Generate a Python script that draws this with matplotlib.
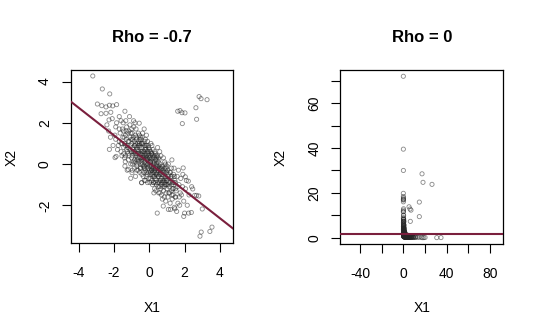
import matplotlib
matplotlib.use('Agg')
import matplotlib.pyplot as plt

plt.rcParams['font.family'] = ['Liberation Sans', 'DejaVu Sans']

# ---------------- data (read / estimated from the picture) ----------------
left_title = "Rho = -0.7"
right_title = "Rho = 0"
x_label = "X1"
y_label = "X2"

# left panel: dense central cloud
left_core = [
    (-2.4, 1.9), (-2.2, 1.3), (-2.1, 2.2), (-2.3, 1.6), (-2.05, 0.9),
    (-1.9, 1.8), (-1.8, 0.7), (-1.95, 1.4), (-1.6, 2.1), (-1.7, 1.1), (-1.55, 0.4), (-1.85, 2.0),
    (-1.65, 1.5), (-1.75, 0.9), (-1.52, 1.7), (-1.9, 1.2), (-1.6, 0.6), (-1.7, 2.3),
    (-1.45, 1.6), (-1.4, 0.3), (-1.3, 1.2), (-1.25, 0.9), (-1.1, 1.9), (-1.2, 0.5), (-1.35, 1.4),
    (-1.05, 0.0), (-1.15, 1.1), (-1.48, 2.0), (-1.3, 0.7), (-1.22, 1.5), (-1.4, 1.0), (-1.02, 0.6),
    (-1.12, 2.3), (-1.38, -0.1), (-1.28, 1.8), (-1.18, 0.2), (-1.08, 1.3), (-1.45, 0.8), (-1.33, 2.1),
    (-1.05, 0.9), (-1.25, -0.3), (-1.15, 1.6), (-1.42, 1.3), (-1.02, 1.2), (-1.2, 0.8), (-1.35, 0.4),
    (-0.95, 0.4), (-0.9, 1.3), (-0.85, -0.2), (-0.8, 0.9), (-0.75, 1.7), (-0.7, 0.2), (-0.65, 0.7),
    (-0.6, 1.1), (-0.55, -0.4), (-0.52, 0.5), (-0.98, 1.0), (-0.92, 0.1), (-0.88, 1.8), (-0.82, 0.6),
    (-0.78, -0.6), (-0.72, 1.2), (-0.68, 0.0), (-0.62, 1.5), (-0.58, 0.3), (-0.53, 0.9), (-0.96, -0.3),
    (-0.91, 0.7), (-0.86, 1.1), (-0.81, 2.0), (-0.76, 0.4), (-0.71, -0.1), (-0.66, 1.0), (-0.61, 0.6),
    (-0.56, 1.4), (-0.51, -0.2), (-0.97, 1.5), (-0.87, 0.5), (-0.77, 1.0), (-0.67, 0.3), (-0.57, 0.8),
    (-0.93, 0.8), (-0.83, 0.2), (-0.73, 0.7), (-0.63, -0.3), (-0.54, 1.2), (-0.99, 0.6), (-0.89, 2.1),
    (-0.79, 1.4), (-0.69, 0.5), (-0.59, 0.1),
    (-0.48, 0.3), (-0.45, 1.0), (-0.42, -0.5), (-0.4, 0.6), (-0.38, 1.5), (-0.35, -0.1), (-0.32, 0.2),
    (-0.3, 0.9), (-0.28, -0.8), (-0.25, 0.4), (-0.22, 1.2), (-0.2, 0.0), (-0.18, 0.7), (-0.15, -0.4),
    (-0.12, 0.3), (-0.1, 1.1), (-0.08, -0.2), (-0.05, 0.5), (-0.03, -0.7), (-0.01, 0.1), (-0.49, -0.2),
    (-0.46, 0.8), (-0.43, 0.1), (-0.41, 1.3), (-0.37, 0.5), (-0.34, -0.6), (-0.31, 0.6), (-0.29, 1.7),
    (-0.26, 0.1), (-0.23, -0.3), (-0.21, 0.8), (-0.19, 0.3), (-0.16, 1.4), (-0.13, -0.1), (-0.11, 0.6),
    (-0.09, 0.2), (-0.06, 0.9), (-0.04, -0.4), (-0.02, 0.4), (-0.47, 0.5), (-0.44, -0.9), (-0.39, 0.0),
    (-0.36, 1.0), (-0.33, 0.4), (-0.27, -0.1), (-0.24, 0.7), (-0.17, -0.6), (-0.14, 0.2), (-0.07, 0.0),
    (-0.48, 1.2), (-0.3, -0.4), (-0.2, 0.5), (-0.1, -0.9), (-0.4, 0.3), (-0.26, 1.1), (-0.06, 0.6),
    (-0.15, 0.9),
    (0.02, -0.1), (0.05, 0.6), (0.08, -0.7), (0.1, 0.2), (0.12, -0.3), (0.15, 0.9), (0.18, -1.0),
    (0.2, -0.2), (0.22, 0.4), (0.25, -0.6), (0.28, 0.1), (0.3, -1.2), (0.32, -0.4), (0.35, 0.5),
    (0.38, -0.1), (0.4, -0.8), (0.42, 0.2), (0.45, -0.5), (0.47, 0.8), (0.49, -0.3), (0.03, 0.3),
    (0.06, -0.4), (0.09, 1.0), (0.11, -0.1), (0.14, -0.8), (0.16, 0.3), (0.19, -0.5), (0.21, 0.7),
    (0.24, -0.2), (0.26, -1.4), (0.29, 0.0), (0.31, 0.6), (0.34, -0.7), (0.36, -0.2), (0.39, 0.3),
    (0.41, -1.0), (0.44, -0.1), (0.46, 0.4), (0.48, -0.9), (0.01, 0.7), (0.04, -0.9), (0.07, 0.1),
    (0.13, 0.5), (0.17, -0.1), (0.23, -0.9), (0.27, 0.3), (0.33, -0.3), (0.37, -1.3), (0.43, -0.4),
    (0.5, 0.1), (0.1, -0.5), (0.2, 0.1), (0.3, -0.6), (0.4, 0.0), (0.15, -0.3), (0.35, 0.2), (0.25, -0.9),
    (0.52, -0.6), (0.55, 0.2), (0.58, -1.1), (0.6, -0.3), (0.63, -0.8), (0.66, 0.4), (0.69, -1.5),
    (0.72, -0.5), (0.75, -0.1), (0.78, -0.9), (0.81, -1.3), (0.84, -0.4), (0.87, 0.1), (0.9, -0.7),
    (0.93, -1.8), (0.96, -0.2), (0.99, -1.0), (0.53, -1.4), (0.56, -0.2), (0.59, 0.6), (0.62, -0.5),
    (0.65, -1.2), (0.68, -0.1), (0.71, -0.9), (0.74, -1.7), (0.77, -0.3), (0.8, 0.3), (0.83, -0.8),
    (0.86, -1.1), (0.89, -0.2), (0.92, -0.6), (0.95, -1.4), (0.98, -0.4), (0.54, -0.9), (0.64, -0.2),
    (0.73, -1.1), (0.82, -0.6), (0.91, 0.0), (0.97, -0.8), (0.57, -0.5), (0.67, -0.7), (0.76, -0.5),
    (0.85, -1.6), (0.94, -1.0), (0.61, 0.0),
    (1.02, -0.8), (1.05, -1.6), (1.08, 0.0), (1.12, -1.1), (1.15, -0.4), (1.18, -1.9), (1.22, -0.7),
    (1.25, -1.3), (1.28, 0.2), (1.32, -0.9), (1.35, -1.5), (1.38, -0.5), (1.42, -2.1), (1.45, -0.8),
    (1.48, -1.2), (1.04, -0.3), (1.1, -1.4), (1.16, -0.9), (1.2, -2.2), (1.26, -0.2), (1.3, -1.7),
    (1.36, -1.0), (1.4, -0.2), (1.46, -1.6), (1.07, -1.0), (1.23, -0.6), (1.33, -1.2), (1.43, -0.6),
    (1.52, -1.3), (1.58, -0.6), (1.62, -1.9), (1.68, -1.0), (1.72, -2.0), (1.78, -0.7), (1.82, -1.5),
    (1.88, -1.1), (1.95, -1.8), (1.55, -2.3), (1.65, -0.3), (1.75, -1.4), (1.9, -0.5),
    (2.05, -1.2), (2.15, -2.0), (2.25, -1.5), (2.4, -1.1), (2.1, -0.8),
]

# left panel: more points in the darkest middle part of the cloud
left_core_extra = [
    (-1.6, 1.0), (-1.5, 1.3), (-1.45, 0.5), (-1.3, 1.6), (-1.25, 0.6), (-1.2, 1.1), (-1.1, 0.7),
    (-1.05, 1.5), (-1.0, 0.3), (-0.95, 1.2), (-0.9, 0.6), (-0.85, 0.9), (-0.8, 0.1), (-0.75, 1.3),
    (-0.7, 0.8), (-0.65, 0.2), (-0.6, 0.5), (-0.55, 1.0), (-0.5, 0.0), (-0.45, 0.6), (-0.4, 1.0),
    (-0.35, 0.3), (-0.3, 0.6), (-0.25, -0.2), (-0.2, 0.9), (-0.15, 0.4), (-0.1, 0.0), (-0.05, 0.8),
    (0.0, 0.3), (0.0, -0.3), (0.05, 0.1), (0.1, -0.2), (0.15, 0.5), (0.2, -0.6), (0.25, 0.0),
    (0.3, -0.3), (0.35, -0.9), (0.4, 0.4), (0.45, -0.2), (0.5, -0.6), (0.55, -0.1), (0.6, -0.8),
    (0.65, -0.4), (0.7, -0.2), (0.75, -0.8), (0.8, -0.4), (0.85, -1.0), (0.9, -0.3), (0.95, -0.7),
    (1.0, -1.2), (1.05, -0.6), (1.1, -0.9), (1.15, -1.4), (1.2, -0.4), (1.25, -1.0), (1.3, -0.6),
    (1.35, -1.2), (1.4, -0.9), (1.5, -1.6), (1.6, -1.1), (-1.7, 1.7), (-1.55, 1.0), (-1.35, 0.9),
    (-1.15, 0.4), (-0.95, 0.0), (-0.78, 0.5), (-0.62, 0.9), (-0.42, 0.2), (-0.28, 0.3), (-0.12, -0.5),
    (0.08, 0.4), (0.22, -0.4), (0.38, -0.5), (0.52, 0.3), (0.68, -1.0), (0.88, -0.9), (1.08, -0.5),
    (1.28, -1.5), (1.48, -0.9), (1.7, -1.6), (-0.7, -0.3), (-0.3, -0.2), (0.1, 0.6), (0.5, -1.1),
    (-1.0, 1.7), (1.0, -0.1), (-0.5, 1.3), (0.6, -1.4), (-0.2, -0.8), (0.3, 0.4),
]

# left panel: scattered points away from the cloud
left_outliers = [
    (-3.2, 4.27), (-2.66, 3.64), (-2.24, 3.40), (-2.94, 2.91), (-2.69, 2.83), (-2.45, 2.77),
    (-2.26, 2.85), (-2.07, 2.82), (-1.85, 2.88), (-1.38, 2.56), (-2.45, 2.46), (-2.18, 2.51),
    (-2.73, 2.44), (-2.28, 2.14), (-0.57, 1.98), (-2.26, 0.71), (-1.88, 0.37),
    (2.82, 3.27), (2.93, 3.17), (3.27, 3.12), (2.64, 2.73), (1.61, 2.56), (1.74, 2.59),
    (1.85, 2.49), (2.02, 2.48), (2.68, 2.17), (1.87, 1.96),
    (0.45, -2.38), (2.87, -3.50), (2.94, -3.30), (3.43, -3.27), (3.55, -3.06), (3.0, -2.18),
    (2.23, -2.38), (2.38, -2.35), (1.95, -2.54), (2.0, -2.38), (2.46, -1.21), (2.68, -1.52),
    (2.8, -1.55), (2.57, -1.52), (2.21, -0.83), (1.92, -0.19), (2.04, -0.62), (0.79, -2.04),
    (1.08, -2.2), (1.45, -2.17),
    (-1.94, 0.31), (-1.36, 0.11), (-0.98, -0.42), (-1.05, -0.69), (-0.43, -0.91), (-1.19, -0.26),
]

# right panel: dense corner near the origin
right_core = [
    (0.09, 6.7), (0.11, 3.7), (0.12, 9.0), (0.10, 5.0), (0.13, 2.5),
    (0.15, 6.0), (0.17, 2.0), (0.14, 4.1), (0.20, 8.2), (0.18, 3.0), (0.21, 1.5), (0.16, 7.4),
    (0.19, 4.5), (0.17, 2.5), (0.22, 5.5), (0.15, 3.3), (0.20, 1.8), (0.18, 10.0),
    (0.23, 5.0), (0.25, 1.35), (0.27, 3.3), (0.29, 2.5), (0.33, 6.7), (0.30, 1.65), (0.26, 4.1),
    (0.35, 1.0), (0.32, 3.0), (0.23, 7.4), (0.27, 2.0), (0.30, 4.5), (0.25, 2.7), (0.36, 1.8),
    (0.33, 10.0), (0.25, 0.9), (0.28, 6.0), (0.31, 1.2), (0.34, 3.7), (0.23, 2.2), (0.26, 8.2),
    (0.39, 1.5), (0.41, 3.7), (0.43, 0.82), (0.45, 2.5), (0.47, 5.5), (0.50, 1.2), (0.52, 2.0),
    (0.55, 3.0), (0.58, 0.67), (0.59, 1.65), (0.38, 2.7), (0.41, 6.0), (0.46, 0.55), (0.49, 3.3),
    (0.54, 4.5), (0.44, 7.4), (0.41, 8.2), (0.45, 4.1),
    (0.62, 1.35), (0.64, 2.7), (0.66, 0.6), (0.68, 4.5), (0.74, 2.5), (0.76, 0.45), (0.80, 3.3),
    (0.86, 0.67), (0.90, 3.0), (0.97, 0.5), (0.75, 5.5), (0.85, 4.1), (0.66, 3.7), (0.64, 0.41),
    (0.70, 2.7), (0.82, 1.65), (0.94, 2.5), (0.99, 1.1),
    (1.05, 1.8), (1.08, 0.5), (1.16, 2.5), (1.20, 0.37), (1.25, 1.5), (1.35, 0.3), (1.42, 1.65),
    (1.49, 0.45), (1.60, 2.2), (1.09, 2.7), (1.30, 0.25), (1.36, 1.8), (1.50, 0.37), (1.01, 2.0),
    (1.45, 0.27), (1.22, 0.82), (1.55, 0.9), (1.13, 0.74),
    (1.73, 1.22), (1.79, 0.33), (1.93, 1.5), (2.0, 0.22), (2.1, 0.9), (2.25, 0.27), (2.4, 1.1),
    (2.5, 0.17), (2.7, 0.37), (1.8, 1.8), (2.1, 0.18), (2.2, 1.35), (2.6, 0.25), (2.5, 1.0),
    (2.3, 0.2), (1.88, 0.45),
    (2.9, 0.2), (2.9, 1.0), (3.2, 0.67), (3.3, 0.15), (3.5, 0.27), (3.6, 1.22), (3.9, 0.22),
    (4.1, 0.12), (4.3, 0.45), (3.3, 0.11), (3.7, 0.18), (4.1, 0.82), (4.3, 0.2), (2.8, 0.45),
    (4.6, 0.27), (4.9, 0.55), (5.1, 0.15), (5.4, 0.37), (5.6, 0.14), (5.9, 0.5), (6.2, 0.22),
    (6.6, 0.33), (7.0, 0.17), (4.7, 0.1), (5.2, 0.74), (5.8, 0.25), (6.7, 0.6),
    (7.8, 0.3), (8.6, 0.14), (9.5, 0.22), (11.0, 0.33), (8.2, 0.45),
]

# right panel: scattered points along the axes and far out
right_outliers = [
    (0.04, 72.0), (0.07, 39.5), (0.10, 30.0), (17.3, 28.5), (18.2, 24.7), (26.5, 23.8),
    (14.8, 15.9), (5.3, 13.8), (6.2, 12.8), (7.1, 12.3), (14.8, 9.4), (6.5, 7.3),
    (0.05, 19.8), (0.05, 18.4), (0.07, 17.0), (0.09, 16.0), (0.10, 17.3), (0.13, 16.8),
    (0.16, 17.8), (0.25, 12.9), (0.09, 11.7), (0.11, 12.3), (0.07, 11.5), (0.10, 8.5), (0.57, 7.2),
    (17.6, 0.03), (18.9, 0.04), (30.9, 0.04), (34.8, 0.05), (20.1, 0.11), (9.3, 0.09),
    (10.8, 0.10), (7.0, 0.08), (7.4, 0.09), (11.7, 0.30), (14.6, 0.22), (16.4, 0.21),
    (13.1, 0.22), (9.1, 0.44), (6.8, 0.83), (7.7, 0.54), (1.57, 0.09), (2.2, 0.13),
    (0.14, 1.36), (0.26, 1.12), (0.38, 0.66), (0.35, 0.5), (0.65, 0.4), (0.30, 0.77),
    (0.10, 2.0), (0.15, 1.45),
]

# fitted lines (intercept, slope)
left_line = (0.05, -0.67)
right_line = (1.8, 0.0)

left_xticks = [-4, -2, 0, 2, 4]
left_yticks = [-2, 0, 2, 4]
right_xticks = [-40, -20, 0, 20, 40, 60, 80]
right_xticklabels = ['-40', '', '0', '', '40', '', '80']
right_yticks = [0, 10, 20, 30, 40, 50, 60, 70]
right_yticklabels = ['0', '', '20', '', '40', '', '60', '']

# ---------------- drawing ----------------
W, H = 540, 332
fig = plt.figure(figsize=(W / 100, H / 100), dpi=100)
fig.patch.set_facecolor('white')

pt_edge = (0.15, 0.15, 0.15, 0.55)
line_col = '#7A1F3D'


def panel(rect, pts, line, xlim, ylim, xt, xtl, yt, ytl):
    ax = fig.add_axes(rect)
    xs = [p[0] for p in pts]
    ys = [p[1] for p in pts]
    ax.scatter(xs, ys, s=9, facecolors='none', edgecolors=[pt_edge], linewidths=0.6, zorder=2)
    ax.axline((0, line[0]), slope=line[1], color=line_col, lw=1.5, zorder=3)
    ax.set_xlim(*xlim)
    ax.set_ylim(*ylim)
    ax.set_xticks(xt)
    ax.set_xticklabels(xtl, fontsize=10)
    ax.set_yticks(yt)
    ax.set_yticklabels(ytl, fontsize=10, rotation=90, va='center')
    ax.tick_params(axis='x', direction='out', length=6.5, width=0.8, pad=10)
    ax.tick_params(axis='y', direction='out', length=6.5, width=0.8, pad=7)
    for sp in ax.spines.values():
        sp.set_linewidth(0.9)
        sp.set_color('black')
    return ax


ax1 = panel([70.7 / W, 1 - 243 / H, (233 - 70.7) / W, (243 - 70) / H],
            left_core + left_core_extra + left_outliers, left_line,
            (-4.45, 4.74), (-3.83, 4.56),
            left_xticks, [str(t) for t in left_xticks],
            left_yticks, [str(t) for t in left_yticks])

ax2 = panel([340 / W, 1 - 244 / H, (503.3 - 340) / W, (244 - 70) / H],
            right_core + right_outliers, right_line,
            (-58.4, 92.3), (-2.8, 74.8),
            right_xticks, right_xticklabels,
            right_yticks, right_yticklabels)

# titles and axis labels
fig.text(152 / W, 1 - 37 / H, left_title, ha='center', va='center', fontsize=12, fontweight='bold')
fig.text(421.7 / W, 1 - 37 / H, right_title, ha='center', va='center', fontsize=12, fontweight='bold')
fig.text(152 / W, 1 - 308 / H, x_label, ha='center', va='center', fontsize=10)
fig.text(421.7 / W, 1 - 308 / H, x_label, ha='center', va='center', fontsize=10)
fig.text(12 / W, 1 - 157 / H, y_label, ha='center', va='center', fontsize=10, rotation=90)
fig.text(281 / W, 1 - 157 / H, y_label, ha='center', va='center', fontsize=10, rotation=90)

fig.savefig('out.png', dpi=100)
